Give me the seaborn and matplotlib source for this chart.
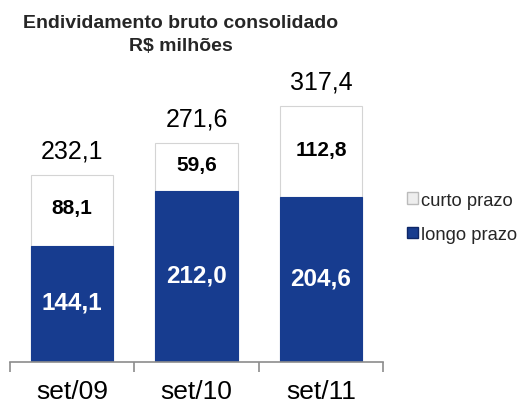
import matplotlib
matplotlib.use("Agg")
import matplotlib.pyplot as plt
import pandas as pd
import seaborn as sns
from matplotlib.patches import Patch

# values (R$ milhões)
periods = ["set/09", "set/10", "set/11"]
longo_prazo = [144.1, 212.0, 204.6]
curto_prazo = [88.1, 59.6, 112.8]
totals = [232.1, 271.6, 317.4]

BLUE = "#173c8f"

sns.set_theme(style="white")
plt.rcParams["font.family"] = ["Liberation Sans", "DejaVu Sans"]

df = pd.DataFrame({"period": periods, "longo": longo_prazo, "curto": curto_prazo, "total": totals})
df["stack"] = df["longo"] + df["curto"]

fig = plt.figure(figsize=(5.2, 4.06), dpi=100)
ax = fig.add_axes([0.019, 0.106, 0.718, 0.707])

# stacked: full height in white first, then long-term part in blue on top
sns.barplot(data=df, x="period", y="stack", color="white", edgecolor="#d4d4d4",
            linewidth=0.8, width=0.66, saturation=1, ax=ax)
sns.barplot(data=df, x="period", y="longo", color=BLUE, edgecolor=BLUE,
            linewidth=0.8, width=0.66, saturation=1, ax=ax)

for i, row in df.iterrows():
    ax.text(i, row["longo"] / 2 + 2, f"{row['longo']:.1f}".replace(".", ","),
            ha="center", va="center", color="white", fontsize=17.5, fontweight="bold")
    ax.text(i, row["longo"] + row["curto"] / 2 + 3, f"{row['curto']:.1f}".replace(".", ","),
            ha="center", va="center", color="black", fontsize=15, fontweight="bold")
    ax.text(i, row["stack"] + 30, f"{row['total']:.1f}".replace(".", ","),
            ha="center", va="center", color="black", fontsize=18)

ax.set_xlim(-0.5, 2.5)
ax.set_ylim(0, 356)
ax.set_xlabel("")
ax.set_ylabel("")
ax.set_yticks([])
for side in ["top", "right", "left"]:
    ax.spines[side].set_visible(False)
ax.spines["bottom"].set_color("#8c8c8c")
ax.spines["bottom"].set_linewidth(1.2)

# tick marks between categories, labels centred under bars
ax.set_xticks([-0.5, 0.5, 1.5, 2.5], minor=True)
ax.tick_params(axis="x", which="minor", length=7, width=1.2, color="#8c8c8c", bottom=True)
ax.tick_params(axis="x", which="major", length=0, labelsize=19, pad=12, colors="black")

fig.text(0.348, 0.942, "Endividamento bruto consolidado", ha="center", va="center",
         fontsize=14, fontweight="bold")
fig.text(0.348, 0.886, "R$ milhões", ha="center", va="center",
         fontsize=14, fontweight="bold")

handles = [Patch(facecolor="#eeeeee", edgecolor="#bbbbbb", label="curto prazo"),
           Patch(facecolor=BLUE, edgecolor="#0d2666", label="longo prazo")]
fig.legend(handles=handles, loc="center left", bbox_to_anchor=(0.765, 0.462),
           frameon=False, fontsize=13.2, handlelength=0.6, handleheight=0.6,
           handletextpad=0.15, labelspacing=0.95, borderpad=0)

fig.savefig("out.png", dpi=100)
